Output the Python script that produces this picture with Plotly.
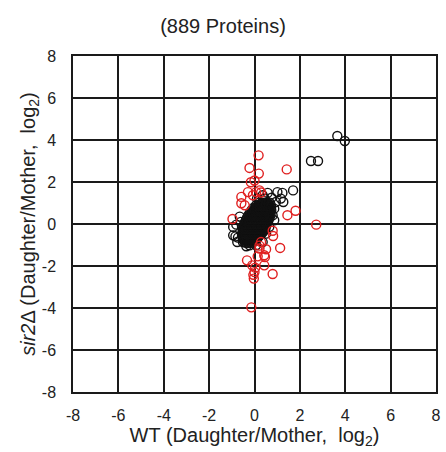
import plotly.graph_objects as go

# Black (non-significant) proteins: WT vs sir2Δ daughter/mother ratios (log2)
wt_black = [
    -0.38, -0.27, -0.16,
    -0.48, -0.37, -0.26, -0.15, -0.04, 0.05,
    -0.52, -0.41, -0.30, -0.19, -0.08, 0.03, 0.14,
    -0.54, -0.43, -0.32, -0.21, -0.10, 0.01, 0.12, 0.23,
    -0.53, -0.42, -0.31, -0.20, -0.09, 0.02, 0.13, 0.24, 0.34,
    -0.52, -0.41, -0.30, -0.19, -0.08, 0.03, 0.14, 0.25, 0.36, 0.43,
    -0.50, -0.39, -0.28, -0.17, -0.06, 0.05, 0.16, 0.27, 0.38, 0.49,
    -0.47, -0.36, -0.25, -0.14, -0.03, 0.08, 0.19, 0.30, 0.41, 0.52,
    -0.43, -0.32, -0.21, -0.10, 0.01, 0.12, 0.23, 0.34, 0.45, 0.57,
    -0.38, -0.27, -0.16, -0.05, 0.06, 0.17, 0.28, 0.39, 0.50, 0.62,
    -0.33, -0.22, -0.11, 0.00, 0.11, 0.22, 0.33, 0.44, 0.55, 0.66,
    -0.27, -0.16, -0.05, 0.06, 0.17, 0.28, 0.39, 0.50, 0.61, 0.71,
    -0.20, -0.09, 0.02, 0.13, 0.24, 0.35, 0.46, 0.57, 0.68,
    -0.13, -0.02, 0.09, 0.20, 0.31, 0.42, 0.53, 0.64, 0.74,
    -0.04, 0.07, 0.18, 0.29, 0.40, 0.51, 0.62, 0.73,
    0.07, 0.18, 0.29, 0.40, 0.51, 0.62, 0.72,
    0.21, 0.33, 0.45, 0.57, 0.67,
    # interior, staggered
    -0.43, -0.32, -0.21, -0.10, -0.01,
    -0.46, -0.35, -0.24, -0.13, -0.02, 0.09,
    -0.48, -0.37, -0.26, -0.15, -0.04, 0.07, 0.18,
    -0.48, -0.37, -0.26, -0.15, -0.04, 0.07, 0.18, 0.29,
    -0.47, -0.36, -0.25, -0.14, -0.03, 0.08, 0.19, 0.30, 0.39,
    -0.45, -0.34, -0.23, -0.12, -0.01, 0.10, 0.21, 0.32, 0.43,
    -0.42, -0.31, -0.20, -0.09, 0.02, 0.13, 0.24, 0.35, 0.46,
    -0.38, -0.27, -0.16, -0.05, 0.06, 0.17, 0.28, 0.39, 0.50,
    -0.33, -0.22, -0.11, 0.00, 0.11, 0.22, 0.33, 0.44, 0.55,
    -0.27, -0.16, -0.05, 0.06, 0.17, 0.28, 0.39, 0.50, 0.60,
    -0.22, -0.11, 0.00, 0.11, 0.22, 0.33, 0.44, 0.55, 0.65,
    -0.15, -0.04, 0.07, 0.18, 0.29, 0.40, 0.51, 0.62,
    -0.08, 0.03, 0.14, 0.25, 0.36, 0.47, 0.58, 0.68,
    0.01, 0.12, 0.23, 0.34, 0.45, 0.56, 0.67,
    0.12, 0.23, 0.34, 0.45, 0.56, 0.66,
    0.26, 0.38, 0.50, 0.62,
    # periphery and outliers
    -0.94, -0.84, -0.73, -0.51, -0.36, -0.22, -0.80, -0.94, -0.76,
    0.58, 0.36, 0.11, 1.01, 1.23, 1.16, 1.27, 0.94, 0.87, 0.80, 0.87,
    0.65, 0.51, 0.36, 0.07, 1.70, 2.49, 2.80, 3.65, 3.98, -0.65, -0.60,
    0.75, 0.45,
]
sir2_black = [
    -0.90, -0.90, -0.90,
    -0.78, -0.78, -0.78, -0.78, -0.78, -0.78,
    -0.66, -0.66, -0.66, -0.66, -0.66, -0.66, -0.66,
    -0.54, -0.54, -0.54, -0.54, -0.54, -0.54, -0.54, -0.54,
    -0.42, -0.42, -0.42, -0.42, -0.42, -0.42, -0.42, -0.42, -0.42,
    -0.30, -0.30, -0.30, -0.30, -0.30, -0.30, -0.30, -0.30, -0.30, -0.30,
    -0.18, -0.18, -0.18, -0.18, -0.18, -0.18, -0.18, -0.18, -0.18, -0.18,
    -0.06, -0.06, -0.06, -0.06, -0.06, -0.06, -0.06, -0.06, -0.06, -0.06,
    0.06, 0.06, 0.06, 0.06, 0.06, 0.06, 0.06, 0.06, 0.06, 0.06,
    0.18, 0.18, 0.18, 0.18, 0.18, 0.18, 0.18, 0.18, 0.18, 0.18,
    0.30, 0.30, 0.30, 0.30, 0.30, 0.30, 0.30, 0.30, 0.30, 0.30,
    0.42, 0.42, 0.42, 0.42, 0.42, 0.42, 0.42, 0.42, 0.42, 0.42,
    0.54, 0.54, 0.54, 0.54, 0.54, 0.54, 0.54, 0.54, 0.54,
    0.66, 0.66, 0.66, 0.66, 0.66, 0.66, 0.66, 0.66, 0.66,
    0.78, 0.78, 0.78, 0.78, 0.78, 0.78, 0.78, 0.78,
    0.90, 0.90, 0.90, 0.90, 0.90, 0.90, 0.90,
    1.02, 1.02, 1.02, 1.02, 1.02,
    # interior, staggered
    -0.84, -0.84, -0.84, -0.84, -0.84,
    -0.72, -0.72, -0.72, -0.72, -0.72, -0.72,
    -0.60, -0.60, -0.60, -0.60, -0.60, -0.60, -0.60,
    -0.48, -0.48, -0.48, -0.48, -0.48, -0.48, -0.48, -0.48,
    -0.36, -0.36, -0.36, -0.36, -0.36, -0.36, -0.36, -0.36, -0.36,
    -0.24, -0.24, -0.24, -0.24, -0.24, -0.24, -0.24, -0.24, -0.24,
    -0.12, -0.12, -0.12, -0.12, -0.12, -0.12, -0.12, -0.12, -0.12,
    0.00, 0.00, 0.00, 0.00, 0.00, 0.00, 0.00, 0.00, 0.00,
    0.12, 0.12, 0.12, 0.12, 0.12, 0.12, 0.12, 0.12, 0.12,
    0.24, 0.24, 0.24, 0.24, 0.24, 0.24, 0.24, 0.24, 0.24,
    0.36, 0.36, 0.36, 0.36, 0.36, 0.36, 0.36, 0.36, 0.36,
    0.48, 0.48, 0.48, 0.48, 0.48, 0.48, 0.48, 0.48,
    0.60, 0.60, 0.60, 0.60, 0.60, 0.60, 0.60, 0.60,
    0.72, 0.72, 0.72, 0.72, 0.72, 0.72, 0.72,
    0.84, 0.84, 0.84, 0.84, 0.84, 0.84,
    0.96, 0.96, 0.96, 0.96,
    # periphery and outliers
    -0.14, -0.59, -0.65, -0.86, -1.06, -1.01, -0.03, -0.54, -0.86,
    1.48, 1.37, 1.21, 1.52, 1.48, 1.21, 1.05, 1.05, 0.73, 0.41, 0.18,
    -0.14, -0.46, -0.86, -1.01, 1.60, 3.00, 3.00, 4.19, 3.95, 0.35, 0.10,
    1.25, 1.20,
]

# Red (significantly changed) proteins
wt_red = [
    0.18, -0.22, 0.19, 1.42, -0.16, 0.00, -0.29, 0.07, 0.22, 0.29,
    -0.07, -0.58, -0.58, -0.43, -0.97, 1.45, 1.81, 2.72, 0.80, 0.82,
    1.13, 0.22, 0.22, 0.51, 0.43, 0.14, 0.46, -0.33, -0.10, 0.43,
    0.03, 0.00, -0.05, 0.80, -0.03, -0.14, 0.29,
]
sir2_red = [
    3.27, 2.67, 2.40, 2.60, 1.99, 2.07, 1.52, 1.52, 1.60, 1.50,
    1.37, 1.29, 0.99, 0.89, 0.24, 0.42, 0.63, -0.03, -0.32, -0.57,
    -1.14, -1.03, -1.17, -1.20, -1.49, -1.54, -1.57, -1.73, -1.97, -1.97,
    -2.08, -2.29, -2.42, -2.38, -2.60, -3.97, -0.86,
]

axis_ticks = [-8, -6, -4, -2, 0, 2, 4, 6, 8]
title_text = "(889 Proteins)"
x_title = "WT (Daughter/Mother,\u00a0 log<sub>2</sub>)"
y_title = "<i>sir2</i>\u0394 (Daughter/Mother,\u00a0 log<sub>2</sub>)"

FONT = "Liberation Sans, Arial, sans-serif"

fig = go.Figure()
fig.add_trace(go.Scatter(
    x=wt_black, y=sir2_black, mode="markers",
    marker=dict(symbol="circle-open", size=9, color="#111111",
                line=dict(width=1.4, color="#111111")),
    showlegend=False, hoverinfo="skip",
))
fig.add_trace(go.Scatter(
    x=wt_red, y=sir2_red, mode="markers",
    marker=dict(symbol="circle-open", size=9, color="#e02020",
                line=dict(width=1.4, color="#e02020")),
    showlegend=False, hoverinfo="skip",
))

axis_common = dict(
    range=[-8, 8], tickmode="array", tickvals=axis_ticks,
    ticktext=[str(t) for t in axis_ticks],
    showgrid=True, gridcolor="#1a1a1a", gridwidth=1.5,
    zeroline=True, zerolinecolor="#1a1a1a", zerolinewidth=1.5,
    showline=True, linecolor="#1a1a1a", linewidth=1.5, mirror=True,
    ticks="", tickfont=dict(family=FONT, size=16, color="#222222"),
    fixedrange=True,
)

fig.update_layout(
    width=446, height=452,
    margin=dict(l=73, r=5, t=56, b=60),
    paper_bgcolor="white", plot_bgcolor="white",
    title=dict(text=title_text, x=0.5, xref="container", xanchor="center",
               y=1 - 26 / 452, yref="container", yanchor="middle",
               font=dict(family=FONT, size=20, color="#222222")),
    xaxis=dict(axis_common, ticklabelstandoff=8,
               title=dict(text=x_title, standoff=0,
                          font=dict(family=FONT, size=20, color="#222222"))),
    yaxis=dict(axis_common, ticklabelstandoff=12,
               title=dict(text=y_title, standoff=0,
                          font=dict(family=FONT, size=20, color="#222222"))),
)

fig.write_html("out.html")
